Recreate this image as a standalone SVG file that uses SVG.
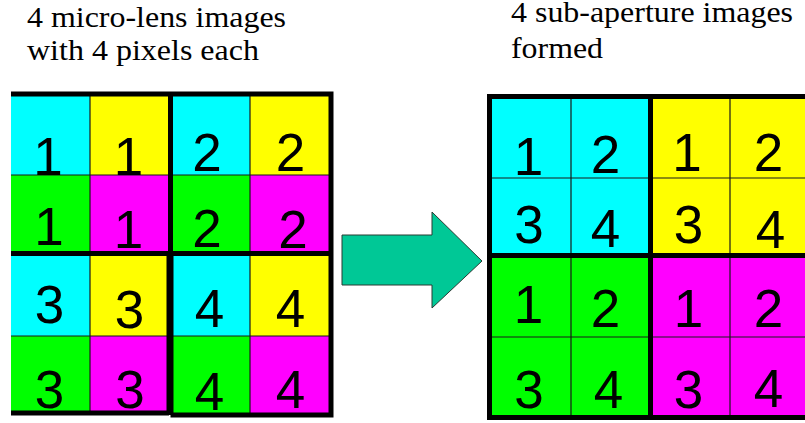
<svg xmlns="http://www.w3.org/2000/svg" width="805" height="423" viewBox="0 0 805 423">
  <style>
    .cy { fill: #00ffff; }
    .ye { fill: #ffff00; }
    .gr { fill: #00ff00; }
    .mg { fill: #ff00ff; }
    .thin { stroke: #1a1a1a; stroke-width: 1.2; fill: none; }
    .thick { stroke: #000; stroke-width: 5; fill: none; }
    .num { font-family: "Liberation Sans", Arial, sans-serif; font-size: 53px; fill: #000; text-anchor: middle; }
    .cap { font-family: "Liberation Serif", "Times New Roman", serif; font-size: 29px; fill: #000; }
    .arrow { fill: #00c896; stroke: #2a3a33; stroke-width: 1; }
  </style>

  <!-- captions -->
  <g id="caption-left">
    <text class="cap" x="27" y="27" textLength="259" lengthAdjust="spacingAndGlyphs">4 micro-lens images</text>
    <text class="cap" x="27" y="60" textLength="232" lengthAdjust="spacingAndGlyphs">with 4 pixels each</text>
  </g>
  <g id="caption-right">
    <text class="cap" x="511" y="22" textLength="282" lengthAdjust="spacingAndGlyphs">4 sub-aperture images</text>
    <text class="cap" x="511" y="58" textLength="92" lengthAdjust="spacingAndGlyphs">formed</text>
  </g>

  <!-- micro-lens grid: 4 blocks of 2x2 pixels -->
  <g id="microlens-grid">
    <rect class="cy" x="11" y="94" width="79" height="81"/>
    <rect class="ye" x="90" y="94" width="80.5" height="81"/>
    <rect class="cy" x="170.5" y="94" width="79.5" height="81"/>
    <rect class="ye" x="250" y="94" width="81" height="81"/>
    <rect class="gr" x="11" y="175" width="79" height="78.5"/>
    <rect class="mg" x="90" y="175" width="80.5" height="78.5"/>
    <rect class="gr" x="170.5" y="175" width="79.5" height="78.5"/>
    <rect class="mg" x="250" y="175" width="81" height="78.5"/>
    <rect class="cy" x="11" y="253.5" width="79" height="82.5"/>
    <rect class="ye" x="90" y="253.5" width="80.5" height="82.5"/>
    <rect class="cy" x="170.5" y="253.5" width="79.5" height="82.5"/>
    <rect class="ye" x="250" y="253.5" width="81" height="82.5"/>
    <rect class="gr" x="11" y="336" width="79" height="78"/>
    <rect class="mg" x="90" y="336" width="80.5" height="78"/>
    <rect class="gr" x="170.5" y="336" width="79.5" height="79"/>
    <rect class="mg" x="250" y="336" width="81" height="79"/>
    <path class="thin" d="M90 94V414M250 94V415M11 175H331M11 336H331"/>
    <path class="thick" d="M11 94H331V415H170.5M169 413H11Z"/>
    <path class="thick" d="M170.5 94V253.5M169 253.5V413M171 253.5V415M11 253.5H331"/>
    <text class="num" x="48" y="175">1</text>
    <text class="num" x="128.5" y="175">1</text>
    <text class="num" x="207" y="171">2</text>
    <text class="num" x="290.5" y="171">2</text>
    <text class="num" x="49" y="245">1</text>
    <text class="num" x="128.5" y="248">1</text>
    <text class="num" x="207" y="247">2</text>
    <text class="num" x="293" y="248">2</text>
    <text class="num" x="49.5" y="323">3</text>
    <text class="num" x="129.5" y="328">3</text>
    <text class="num" x="209.5" y="327">4</text>
    <text class="num" x="290.5" y="327">4</text>
    <text class="num" x="49.5" y="408">3</text>
    <text class="num" x="130" y="408">3</text>
    <text class="num" x="209.5" y="410">4</text>
    <text class="num" x="290.5" y="408">4</text>
  </g>

  <!-- transformation arrow -->
  <g id="connectors">
    <polygon class="arrow" points="342,235 432,235 432,212 482,261 432,308 432,285 342,285"/>
  </g>

  <!-- sub-aperture grid: 4 images of 2x2 pixels -->
  <g id="subaperture-grid">
    <rect class="cy" x="489.5" y="96.5" width="161" height="159"/>
    <rect class="ye" x="650.5" y="96.5" width="162" height="159"/>
    <rect class="gr" x="489.5" y="255.5" width="161" height="162"/>
    <rect class="mg" x="650.5" y="255.5" width="162" height="162"/>
    <path class="thin" d="M571 96.5V417.5M730 96.5V417.5M489.5 178H812M489.5 337H812"/>
    <path class="thick" d="M812 96.5H489.5V417.5H812"/>
    <path class="thick" d="M650.5 96.5V417.5M489.5 255.5H812"/>
    <text class="num" x="528.5" y="175">1</text>
    <text class="num" x="605.5" y="173">2</text>
    <text class="num" x="687" y="171">1</text>
    <text class="num" x="768.5" y="171">2</text>
    <text class="num" x="529" y="243">3</text>
    <text class="num" x="605.5" y="247">4</text>
    <text class="num" x="688.5" y="243">3</text>
    <text class="num" x="770.5" y="248">4</text>
    <text class="num" x="528.5" y="323">1</text>
    <text class="num" x="605.5" y="327">2</text>
    <text class="num" x="688.5" y="327">1</text>
    <text class="num" x="768.5" y="327">2</text>
    <text class="num" x="529" y="408">3</text>
    <text class="num" x="608.5" y="408">4</text>
    <text class="num" x="688.5" y="408">3</text>
    <text class="num" x="768.5" y="407">4</text>
  </g>
</svg>
